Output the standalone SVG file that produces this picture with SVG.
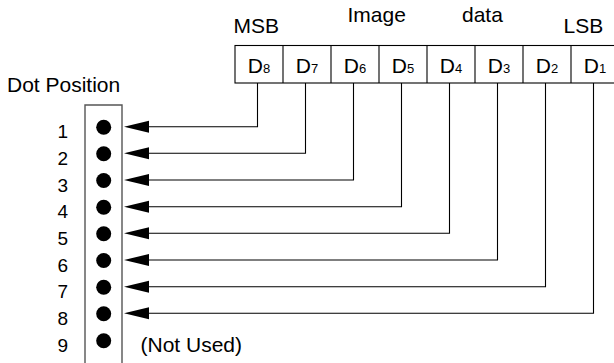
<svg xmlns="http://www.w3.org/2000/svg" width="614" height="363" viewBox="0 0 614 363">
<style>
text{font-family:"Liberation Sans",Arial,sans-serif;fill:#000}
.lbl{font-size:21px}
.num{font-size:19px;text-anchor:end}
.cell{font-size:21px;text-anchor:middle}
.sub{font-size:13px}
.wire{fill:none;stroke:#000;stroke-width:1.1}
.cellbox{fill:#fff;stroke:#000;stroke-width:1.1}
.dotbox{fill:none;stroke:#555;stroke-width:1.4}
</style>
<defs>
<polygon id="ah" points="0,0 25,-6 25,6" fill="#000"/>
</defs>
<rect width="614" height="363" fill="#fff"/>
<g id="titles">
<text class="lbl" x="233.5" y="33">MSB</text>
<text class="lbl" x="347.5" y="22">Image</text>
<text class="lbl" x="462" y="22">data</text>
<text class="lbl" x="563.5" y="33">LSB</text>
<text class="lbl" x="7" y="92">Dot Position</text>
</g>
<g id="byte">
<rect class="cellbox" x="235" y="45.5" width="384" height="37.5"/>
<path class="wire" d="M283 45.5V83M331 45.5V83M379 45.5V83M427 45.5V83M475 45.5V83M523 45.5V83M571 45.5V83"/>
<text class="cell" x="259" y="72.5">D<tspan class="sub">8</tspan></text>
<text class="cell" x="307" y="72.5">D<tspan class="sub">7</tspan></text>
<text class="cell" x="355" y="72.5">D<tspan class="sub">6</tspan></text>
<text class="cell" x="403" y="72.5">D<tspan class="sub">5</tspan></text>
<text class="cell" x="451" y="72.5">D<tspan class="sub">4</tspan></text>
<text class="cell" x="499" y="72.5">D<tspan class="sub">3</tspan></text>
<text class="cell" x="547" y="72.5">D<tspan class="sub">2</tspan></text>
<text class="cell" x="595" y="72.5">D<tspan class="sub">1</tspan></text>
</g>
<g id="dothead">
<path class="dotbox" d="M85 370V105H122V370"/>
<g fill="#000">
<circle cx="103.7" cy="127.2" r="7.5"/>
<circle cx="103.7" cy="153.8" r="7.5"/>
<circle cx="103.7" cy="180.5" r="7.5"/>
<circle cx="103.7" cy="207.2" r="7.5"/>
<circle cx="103.7" cy="233.8" r="7.5"/>
<circle cx="103.7" cy="260.5" r="7.5"/>
<circle cx="103.7" cy="287.2" r="7.5"/>
<circle cx="103.7" cy="313.8" r="7.5"/>
<circle cx="103.7" cy="340.8" r="7.5"/>
</g>
<text class="num" x="68" y="138.2">1</text>
<text class="num" x="68" y="164.8">2</text>
<text class="num" x="68" y="191.5">3</text>
<text class="num" x="68" y="218.2">4</text>
<text class="num" x="68" y="244.8">5</text>
<text class="num" x="68" y="271.5">6</text>
<text class="num" x="68" y="298.2">7</text>
<text class="num" x="68" y="324.8">8</text>
<text class="num" x="68" y="351.5">9</text>
<text class="lbl" x="140.5" y="351.5">(Not Used)</text>
</g>
<g id="connectors">
<path class="wire" d="M257.5 83V126.7H148"/>
<path class="wire" d="M305.5 83V153.3H148"/>
<path class="wire" d="M353.5 83V180H148"/>
<path class="wire" d="M401.5 83V206.7H148"/>
<path class="wire" d="M449.5 83V233.3H148"/>
<path class="wire" d="M497.5 83V260H148"/>
<path class="wire" d="M545.5 83V286.7H148"/>
<path class="wire" d="M593.5 83V313.3H148"/>
<use href="#ah" x="124" y="126.7"/>
<use href="#ah" x="124" y="153.3"/>
<use href="#ah" x="124" y="180"/>
<use href="#ah" x="124" y="206.7"/>
<use href="#ah" x="124" y="233.3"/>
<use href="#ah" x="124" y="260"/>
<use href="#ah" x="124" y="286.7"/>
<use href="#ah" x="124" y="313.3"/>
</g>
</svg>
